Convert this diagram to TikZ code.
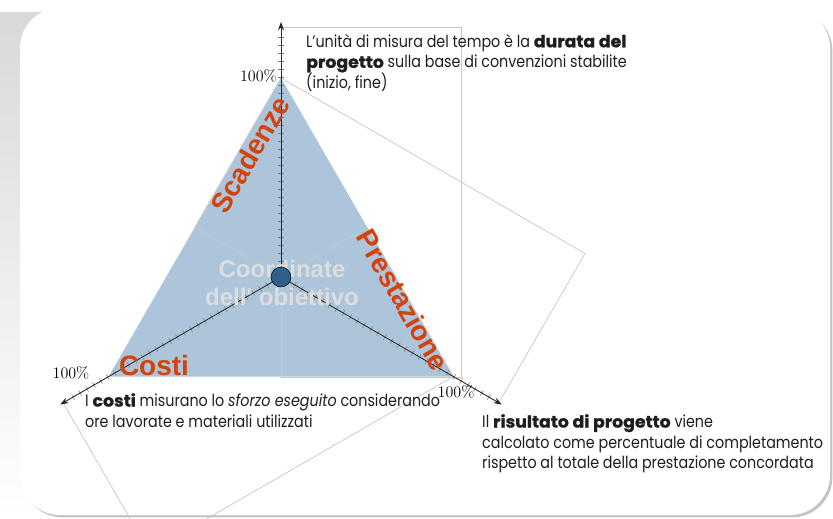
\documentclass[tikz,border=0pt]{standalone}
\usepackage{fontspec}
\usepackage{xcolor}
\definecolor{sky}{HTML}{ACC5DB}
\definecolor{flame}{HTML}{D4420C}
\definecolor{hub}{HTML}{2F5F8A}
\definecolor{frame}{HTML}{C8C8C8}
\definecolor{ink}{HTML}{1E1E1E}
\definecolor{mist}{HTML}{DDDDDD}
\newfontfamily\futura[
  UprightFeatures = {FakeStretch=0.86},
  ItalicFeatures = {FakeStretch=0.86},
  BoldFeatures = {FakeStretch=1.04, FakeBold=1}
]{Poppins}
\newfontfamily\arial{Liberation Sans}
\usetikzlibrary{calc, arrows.meta, shadows}
\tikzset{
    card/.style = {
      fill = white,
      rounded corners = 1.2cm,
      drop shadow = {shadow xshift=2pt, shadow yshift=-2pt, opacity=0.45}
    },
    axisname/.style = {
      text = flame,
      inner sep = 0pt,
      font = \arial\bfseries\fontsize{23.9}{28}\selectfont
    },
    glow/.style = {
      text = mist,
      align = center,
      inner sep = 0pt,
      font = \arial\bfseries\fontsize{20.5}{24}\selectfont
    },
    note/.style = {
      text = ink,
      align = left,
      inner sep = 0pt,
      anchor = north west,
      font = \futura\fontsize{14.2}{17.6}\selectfont
    },
    pct/.style = {
      inner sep = 0pt,
      font = \fontsize{13.7}{16}\selectfont
    },
    hubdot/.style = {
      circle,
      fill = hub,
      draw = black,
      thin,
      inner sep = 0pt,
      minimum size = 17pt
    },
    frame/.style = {
      draw = frame,
      line width = 0.6pt
    },
    tick/.style = {
      gray,
      line width = 0.5pt
    },
    axis/.style = {
      -{Stealth[length=7pt, width=5pt]},
      black!85,
      line width = 0.7pt
    },
}
\begin{document}
\begin{tikzpicture}[x=0.03cm, y=-0.03cm]
  \useasboundingbox (0,0) rectangle (833,518);
  \clip (0,0) rectangle (833,518);
  \fill[white] (0,0) rectangle (833,518);
  \shade[top color=gray!30, bottom color=white] (0,12) rectangle (60,518);
  \fill[card] (20,8) rectangle (830,515);

  \coordinate (O) at (281,277);
  \coordinate (TOP) at (281,78);
  \coordinate (LEFT) at (108.7,376.5);
  \coordinate (RIGHT) at (453.3,376.5);
  \coordinate (TIPUP) at (281,22);
  \coordinate (TIPLEFT) at (60.2,404.5);
  \coordinate (TIPRIGHT) at (501.8,404.5);

  \fill[sky] (TOP) -- (LEFT) -- (RIGHT) -- cycle;

  \draw[frame] (281,27) rectangle (461,377);
  \draw[frame] (TOP) -- ($(TOP)+(304,175.5)$) -- ($(TOP)!0.5!(LEFT)+(304,175.5)$) -- ($(TOP)!0.5!(LEFT)$) -- cycle;
  \draw[frame] ($(TOP)!0.5!(RIGHT)$) -- (RIGHT) -- ($(RIGHT)+(-304,175.5)$) -- ($(TOP)!0.5!(RIGHT)+(-304,175.5)$) -- cycle;

  \foreach \a/\t in {-90/TIPUP, 150/TIPLEFT, 30/TIPRIGHT} {
    \foreach \r in {8,16,...,240}
      \draw[tick] ($(O)+(\a:\r)+(\a+90:3)$) -- ($(O)+(\a:\r)+(\a-90:3)$);
    \draw[axis] (O) -- (\t);
  }

  \node[axisname, rotate=60] (SCAD) at (250,155) {Scadenze};
  \node[axisname, rotate=-60] (PREST) at (403,300) {Prestazione};
  \node[axisname] (COSTI) at (154,365) {Costi};
  \node[glow] (COORD) at (282,283) {Coordinate\\dell' obiettivo};
  \node[hubdot] (HUB) at (O) {};

  \node[pct, anchor=east] (PUP) at (277,76) {100\%};
  \node[pct] (PLEFT) at (71,373) {100\%};
  \node[pct] (PRIGHT) at (456,392) {100\%};

  \node[note] (TEMPO) at (306,34) {L’unità di misura del tempo è la \textbf{durata del}\\\textbf{progetto} sulla base di convenzioni stabilite\\(inizio, fine)};
  \node[note] (SFORZO) at (85,393) {I \textbf{costi} misurano lo \textit{sforzo eseguito} considerando\\ore lavorate e materiali utilizzati};
  \node[note] (RISULTATO) at (482,414) {Il \textbf{risultato di progetto} viene\\calcolato come percentuale di completamento\\rispetto al totale della prestazione concordata};
\end{tikzpicture}
\end{document}
